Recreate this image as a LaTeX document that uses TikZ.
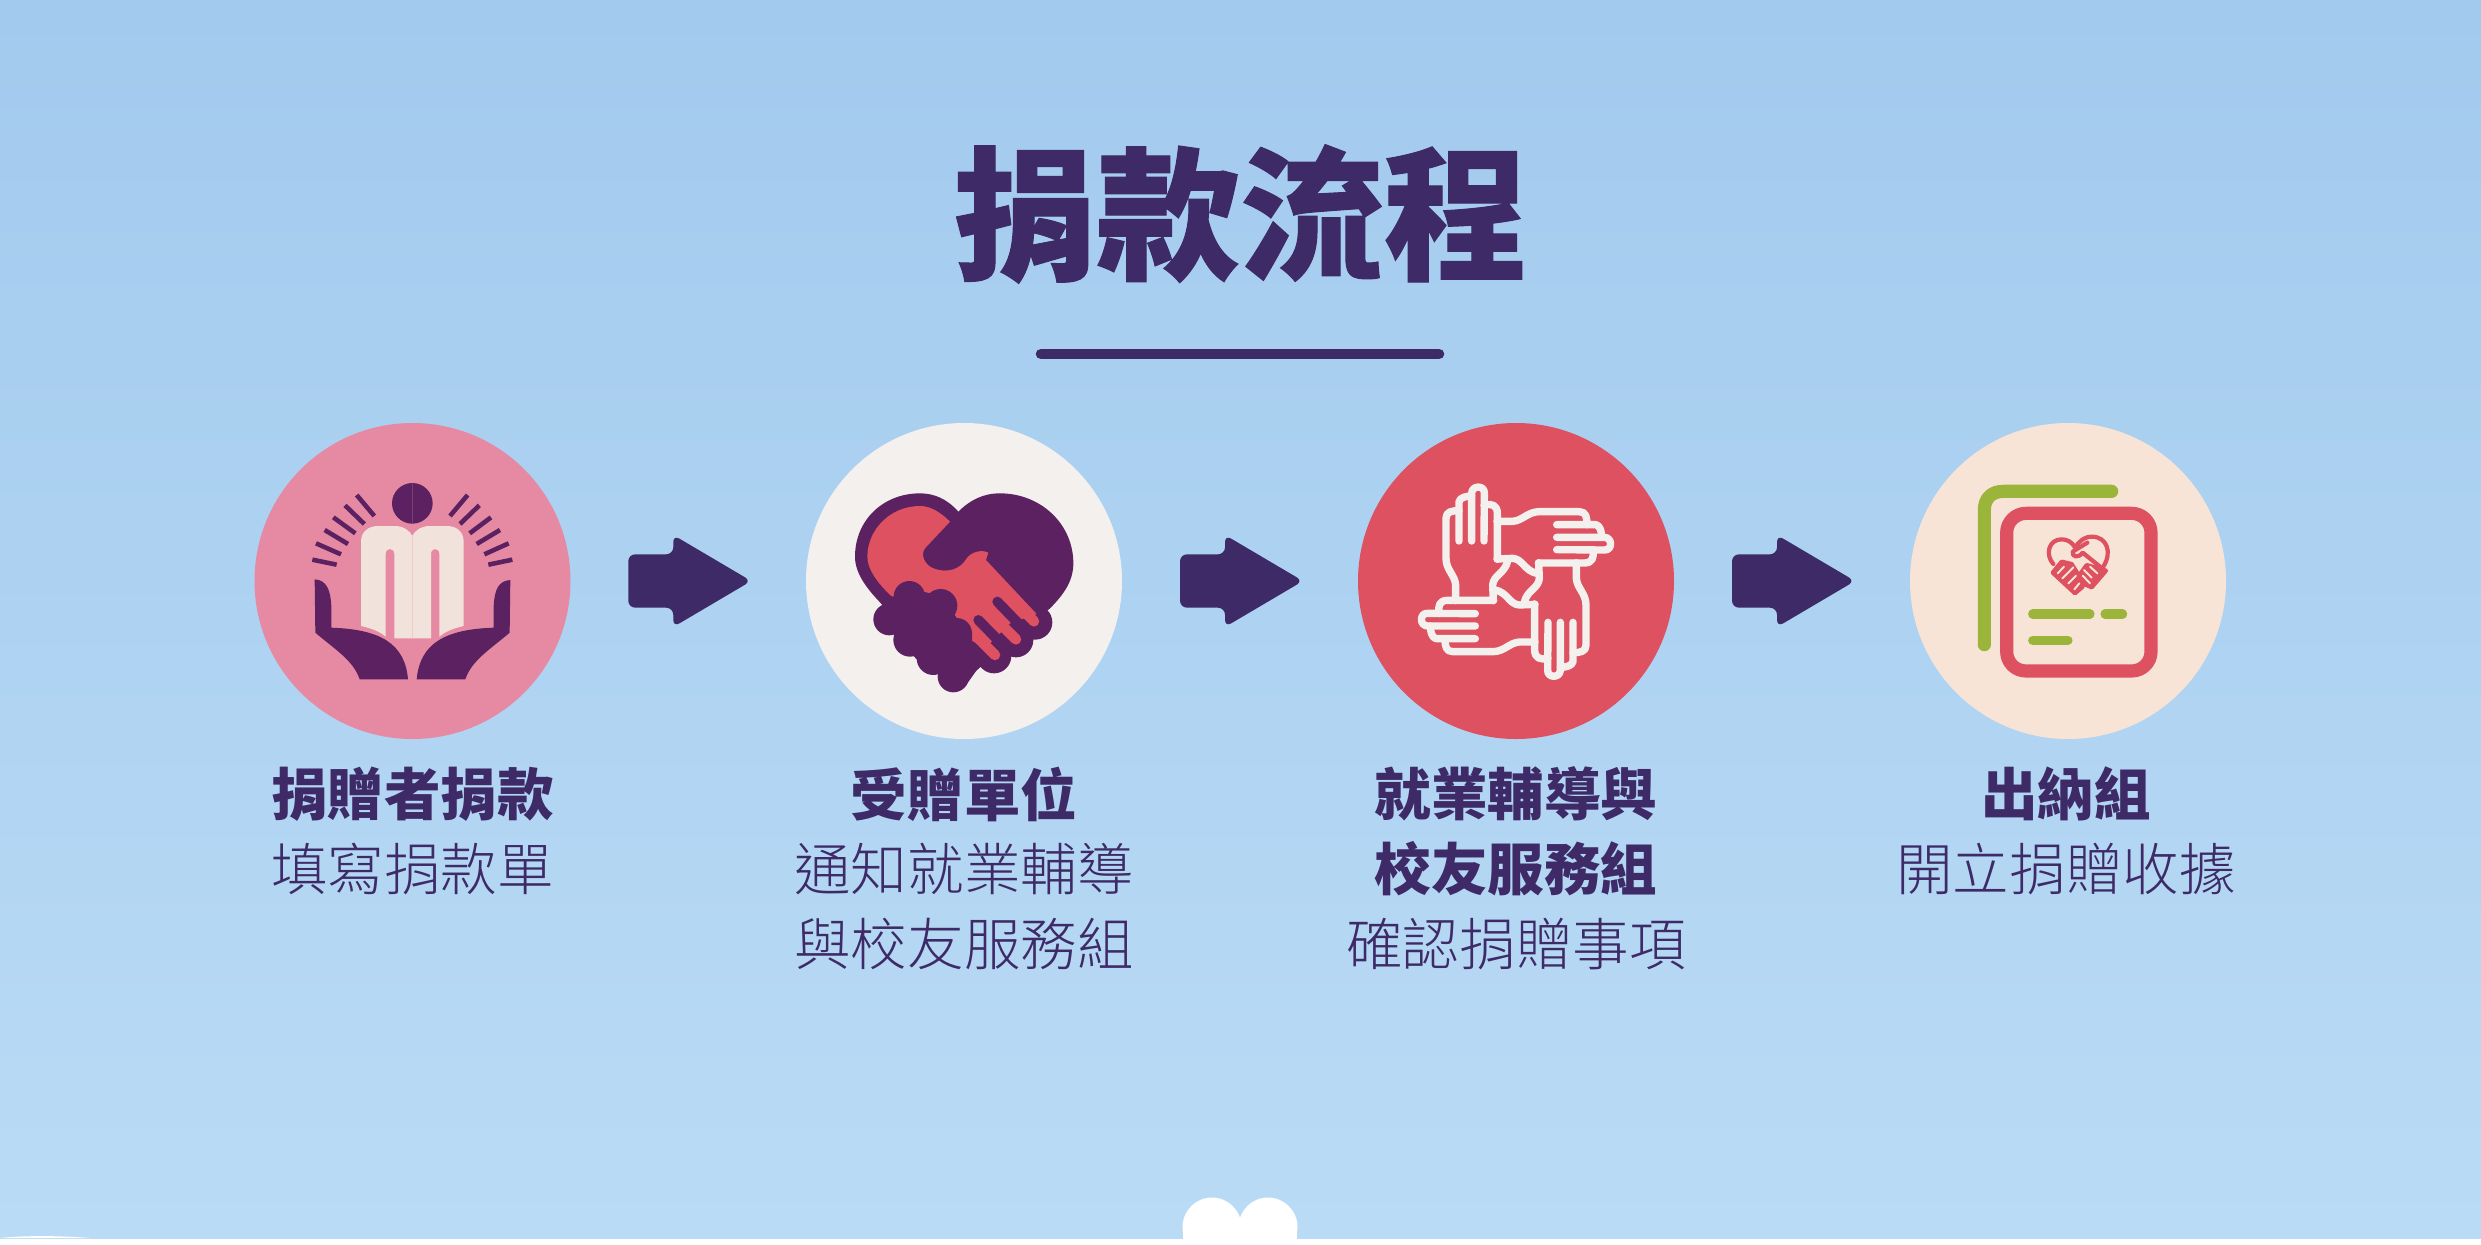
\documentclass[tikz,border=0pt]{standalone}
\usepackage{fontspec}
\usetikzlibrary{calc}
\newfontfamily\cjktitle[FakeBold=0.7]{Noto Sans CJK TC Black}
\newfontfamily\cjkbold{Noto Sans CJK TC Black}
\newfontfamily\cjklight{Noto Sans CJK TC Light}
\definecolor{ink}{HTML}{3D2A66}
\definecolor{plum}{HTML}{5C2160}
\definecolor{coral}{HTML}{DE5160}
\definecolor{pinkc}{HTML}{E68AA3}
\definecolor{shell}{HTML}{F4F0EE}
\definecolor{peach}{HTML}{F7E4D7}
\definecolor{page}{HTML}{F1E2DB}
\definecolor{leaf}{HTML}{9BB53A}
\definecolor{skytop}{HTML}{A2CAEE}
\definecolor{skybot}{HTML}{BADBF5}
\tikzset{
  disc/.style={circle,minimum size=316*0.02cm,inner sep=0pt,draw=none},
  zoomed/.style={scale=1/3,line cap=round,line join=round},
  caption/.style={anchor=north,align=center,text=ink,inner sep=0pt,font=\fontsize{32.2}{42.5}\selectfont},
  ray/.style={draw=plum,line width=2.6pt,line cap=butt},
  thand/.style={draw=shell,line width=4.2pt,line cap=round,line join=round},
  flowarrow/.style={fill=ink,rounded corners=4pt},
}
\newcommand{\flowarr}[1]{\begin{scope}[shift={(#1)}]
  \path[flowarrow] (-60,-26.7) -- (-15,-26.7) -- (-15,-46) -- (63,0) -- (-15,46) -- (-15,26.7) -- (-60,26.7) -- cycle;
\end{scope}}
\newcommand{\onehand}{
  \draw[thand] (347,572) -- (347,525) .. controls (345,495) and (318,480) .. (318,445) -- (318,325) .. controls (318,305) and (335,302) .. (357,302);
  \draw[thand] (357,393) -- (357,275) .. controls (360,262) and (380,258) .. (395,258);
  \draw[thand] (395,393) -- (395,250) .. controls (395,225) and (435,225) .. (433,250) -- (432,393);
  \draw[thand] (432,285) .. controls (455,280) and (472,285) .. (472,310) -- (472,448);
  \draw[thand] (460,572) -- (458,525) .. controls (460,495) and (495,490) .. (503,453);
}
\begin{document}
\begin{tikzpicture}[x=0.02cm,y=-0.02cm]
\useasboundingbox (0,0) rectangle (2481,1244);
\fill[white] (0,0) rectangle (2481,1244);
\shade[top color=skytop,bottom color=skybot] (0,0) rectangle (2481,1238);
% bottom hearts
\fill[white] (1212,1227) circle (29.5);
\fill[white] (1268,1227) circle (29.5);
\fill[white] (1183,1227) rectangle (1297,1240);
\fill[white] (0,1238) .. controls (20,1236) and (50,1235) .. (90,1238) -- cycle;
% title
\node[text=ink,inner sep=0pt,font=\cjktitle\fontsize{81.8}{90}\selectfont] (title) at (1240,214) {捐款流程};
\coordinate (ruleL) at (1041,354);
\coordinate (ruleR) at (1439,354);
\draw[ink,line width=6pt,line cap=round] (ruleL) -- (ruleR);
% circles
\node[disc,fill=pinkc] (c1) at (412.5,581) {};
\node[disc,fill=shell] (c2) at (964,581) {};
\node[disc,fill=coral] (c3) at (1516,581) {};
\node[disc,fill=peach] (c4) at (2068,581) {};
% arrows
\coordinate (a1) at ($(c1)!0.5!(c2)$);
\coordinate (a2) at ($(c2)!0.5!(c3)$);
\coordinate (a3) at ($(c3)!0.5!(c4)$);
\flowarr{a1}\flowarr{a2}\flowarr{a3}
% icon 1
\begin{scope}[shift={(240,410)},zoomed]
  \fill[plum] (517,280) circle (61);
  \fill[page] (363,648) -- (363,395) .. controls (363,365) and (385,348) .. (415,348) -- (465,348) .. controls (490,348) and (510,362) .. (517,378) .. controls (524,362) and (544,348) .. (569,348) -- (620,348) .. controls (650,348) and (671,365) .. (671,395) -- (671,648) .. controls (640,655) and (615,665) .. (598,680) -- (598,432) .. controls (598,412) and (573,412) .. (573,432) -- (573,685) -- (463,685) -- (463,432) .. controls (463,412) and (437,412) .. (437,432) -- (437,680) .. controls (420,665) and (395,655) .. (363,648) -- cycle;
  \draw[pinkc!25!page,line width=0.3pt] (517,378) -- (517,685);
  \draw[plum!75!pinkc,line width=0.2pt] (517,219) -- (517,341);
  \foreach \ax/\ay/\bx/\by in {350/255/403/318,315/286/373/342,280/322/346/370,254/360/324/402,228/400/303/433,217/449/290/464,683/255/630/318,718/286/660/342,753/322/689/370,780/360/710/402,806/400/733/433,817/449/745/464}
    \draw[ray] (\ax,\ay) -- (\bx,\by);
  \fill[plum] (224,508) .. controls (260,510) and (272,540) .. (274,590) -- (274,653) .. controls (420,658) and (495,700) .. (504,808) -- (359,808) .. controls (340,750) and (280,715) .. (226,668) -- cycle;
  \fill[plum] (811,510) .. controls (775,512) and (763,540) .. (761,590) -- (761,653) .. controls (615,658) and (540,700) .. (530,808) -- (676,808) .. controls (695,750) and (755,715) .. (809,668) -- cycle;
\end{scope}
% icon 2
\begin{scope}[shift={(790,410)},zoomed]
  \fill[plum] (505,305) .. controls (470,265) and (430,250) .. (390,250) .. controls (280,250) and (195,330) .. (195,440) .. controls (195,490) and (230,535) .. (270,577) -- (490,840) -- (780,595) .. controls (825,550) and (850,510) .. (850,460) .. controls (850,340) and (750,250) .. (630,250) .. controls (580,250) and (540,270) .. (505,305) -- cycle;
  \fill[plum] (735,637) circle (52);
  \fill[plum] (678,690) circle (52);
  \fill[plum] (612,738) circle (52);
  \fill[coral] (480,335) -- (405,415) .. controls (390,435) and (405,465) .. (430,475) .. controls (470,490) and (510,480) .. (530,445) .. controls (545,425) and (575,418) .. (595,428) -- (588,450) -- (740,612) -- (660,640) -- (600,700) -- (560,700) -- (300,555) .. controls (265,520) and (232,480) .. (232,440) .. controls (232,360) and (300,288) .. (390,288) .. controls (420,288) and (450,305) .. (480,335) -- cycle;
  \draw[coral,line width=6pt] (660,560) -- (732,634);
  \draw[coral,line width=6pt] (600,610) -- (678,688);
  \draw[coral,line width=6pt] (545,665) -- (615,735);
  \draw[plum,line width=5.7pt] (565,630) -- (650,717);
  \draw[plum,line width=5.7pt] (622,575) -- (707,663);
  \fill[plum] (298,628) circle (48);
  \fill[plum] (358,560) circle (47);
  \fill[plum] (452,587) circle (50);
  \fill[plum] (500,670) circle (46);
  \fill[plum] (360,690) circle (50);
  \fill[plum] (430,745) circle (50);
  \fill[plum] (490,800) circle (47);
  \fill[plum] (300,570) -- (340,530) -- (460,560) -- (510,640) -- (546,670) -- (546,700) -- (585,745) -- (525,830) -- (400,770) -- (300,660) -- cycle;
\end{scope}
% icon 3
\begin{scope}[shift={(1340,410)},zoomed]
  \foreach \ang in {0,-90,-180,-270}{
    \begin{scope}[rotate around={\ang:(528,515)}]
      \onehand
    \end{scope}
  }
\end{scope}
% icon 4
\begin{scope}[shift={(1890,410)},zoomed]
  \draw[leaf,line width=7.5pt] (283,704) -- (283,300) .. controls (283,265) and (305,244) .. (340,244) -- (665,244);
  \draw[coral,line width=7.5pt,rounded corners=11pt] (350,310) rectangle (783,783);
  \draw[leaf,line width=5.2pt] (428,612) -- (600,612);
  \draw[leaf,line width=5.2pt] (645,612) -- (698,612);
  \draw[leaf,line width=5.2pt] (428,691) -- (534,691);
  \draw[coral,line width=2.4pt] (490,462) .. controls (465,435) and (475,388) .. (515,388) .. controls (530,388) and (545,395) .. (555,412) .. controls (575,385) and (590,380) .. (605,380) .. controls (650,380) and (668,425) .. (640,470);
  \draw[coral,line width=2.4pt] (592,398) -- (548,425) .. controls (545,442) and (565,445) .. (578,428) -- (640,478);
  \fill[coral,draw=coral,line width=2.4pt] (488,488) -- (515,455) -- (545,462) -- (575,510) -- (578,530) -- (555,550) -- cycle;
  \fill[coral,draw=coral,line width=2.4pt] (648,482) -- (605,532) -- (578,520) -- (572,490) -- (590,465) -- cycle;
  \draw[peach,line width=1.1pt] (503,490) -- (522,470) (517,505) -- (550,472) (535,520) -- (558,497) (553,538) -- (568,520) (582,480) -- (605,503) (600,470) -- (622,490) (578,497) -- (600,520);
\end{scope}
% captions
\node[caption] (t1) at (412.5,766.5) {\cjkbold 捐贈者捐款\\\cjklight 填寫捐款單};
\node[caption] (t2) at (964,766.5) {\cjkbold 受贈單位\\\cjklight 通知就業輔導\\\cjklight 與校友服務組};
\node[caption] (t3) at (1516,766.5) {\cjkbold 就業輔導與\\\cjkbold 校友服務組\\\cjklight 確認捐贈事項};
\node[caption] (t4) at (2066,766.5) {\cjkbold 出納組\\\cjklight 開立捐贈收據};
\end{tikzpicture}
\end{document}
